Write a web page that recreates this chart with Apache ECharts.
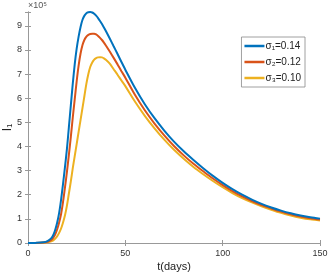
<!DOCTYPE html>
<html>
<head>
<meta charset="utf-8">
<script src="https://cdn.jsdelivr.net/npm/echarts@6/dist/echarts.min.js"></script>
<style>
html, body { margin: 0; padding: 0; background: #fff; }
#chart { width: 328px; height: 274px; }
</style>
</head>
<body>
<div id="chart"></div>
<script>
// days
var days = [0, 4, 8, 10, 12, 13, 14, 15, 16, 17, 18, 19, 20, 21, 22, 23, 24, 25, 26, 27, 28, 29,
  30, 31, 32, 33, 34, 35, 36, 37, 38, 39, 40, 42, 44, 46, 48, 50, 55, 60, 65, 70, 75, 80, 85,
  90, 95, 100, 105, 110, 115, 120, 125, 130, 135, 140, 145, 150];
// I1 in units of 1e5
var sigma1 = [0, 0.005, 0.03, 0.08, 0.2, 0.33, 0.55, 0.85, 1.25, 1.8, 2.45, 3.15, 3.9, 4.8, 5.7, 6.6, 7.4, 8.05, 8.55, 8.95, 9.25, 9.42,
  9.52, 9.56, 9.57, 9.55, 9.5, 9.42, 9.32, 9.2, 9.07, 8.93, 8.78, 8.47, 8.15, 7.83, 7.5, 7.18, 6.42, 5.75, 5.17, 4.66, 4.2, 3.8, 3.44,
  3.1, 2.78, 2.49, 2.23, 2.0, 1.8, 1.62, 1.47, 1.34, 1.23, 1.14, 1.07, 1.01];
var sigma2 = [0, 0.004, 0.02, 0.05, 0.13, 0.22, 0.36, 0.57, 0.85, 1.2, 1.7, 2.3, 2.95, 3.65, 4.4, 5.2, 5.95, 6.7, 7.35, 7.85, 8.2, 8.42,
  8.55, 8.62, 8.66, 8.67, 8.67, 8.64, 8.58, 8.5, 8.41, 8.3, 8.18, 7.93, 7.67, 7.4, 7.12, 6.85, 6.13, 5.5, 4.95, 4.46, 4.02, 3.63, 3.28,
  2.97, 2.67, 2.4, 2.15, 1.93, 1.74, 1.57, 1.43, 1.3, 1.19, 1.1, 1.03, 0.97];
var sigma3 = [0, 0.003, 0.012, 0.03, 0.07, 0.11, 0.18, 0.28, 0.42, 0.6, 0.85, 1.15, 1.55, 2.05, 2.55, 3.1, 3.6, 4.1, 4.6, 5.1, 5.6, 6.1,
  6.6, 7.0, 7.3, 7.48, 7.6, 7.66, 7.69, 7.7, 7.69, 7.65, 7.59, 7.43, 7.2, 6.97, 6.73, 6.5, 5.85, 5.27, 4.75, 4.28, 3.86, 3.49, 3.15,
  2.85, 2.57, 2.31, 2.07, 1.86, 1.68, 1.52, 1.38, 1.25, 1.14, 1.05, 0.98, 0.93];
var names = ['σ₁=0.14', 'σ₂=0.12', 'σ₃=0.10'];
var colors = ['#0072BD', '#D95319', '#EDB120'];

function pairs(ys) {
  return days.map(function (d, i) { return [d, ys[i]]; });
}

var font = 'Liberation Sans, Arial, sans-serif';
var chart = echarts.init(document.getElementById('chart'), null, {renderer: 'canvas'});
var axisCol = '#999';
var option = {
  animation: false,
  color: colors,
  grid: {left: 28, right: 8, top: 12, bottom: 31, containLabel: false, outerBoundsMode: 'none'},
  legend: {
    orient: 'vertical',
    right: 23,
    top: 37,
    padding: [4, 4, 4, 3],
    itemGap: 6,
    itemWidth: 20,
    itemHeight: 2.5,
    icon: 'rect',
    borderColor: '#888',
    borderWidth: 0.8,
    backgroundColor: '#fff',
    textStyle: {fontFamily: font, fontSize: 10, color: '#222', padding: [0, 0, 0, -4]},
    data: names
  },
  xAxis: [{
    type: 'value', min: 0, max: 150, interval: 50,
    name: 't(days)', nameLocation: 'middle', nameGap: 18, nameMoveOverlap: false,
    nameTextStyle: {fontFamily: font, fontSize: 11, color: '#222'},
    axisLine: {lineStyle: {color: axisCol, width: 1}},
    axisTick: {inside: true, length: 3, lineStyle: {color: axisCol}},
    axisLabel: {fontFamily: font, fontSize: 9, color: '#333', margin: 6},
    splitLine: {show: false}
  }, {
    type: 'value', min: 0, max: 150, interval: 50, position: 'top',
    axisLine: {show: true, lineStyle: {color: axisCol, width: 1}},
    axisTick: {inside: true, length: 3, lineStyle: {color: axisCol}},
    axisLabel: {show: false},
    splitLine: {show: false}
  }],
  yAxis: [{
    type: 'value', min: 0, max: 9.57, interval: 1,
    name: 'I₁', nameLocation: 'middle', nameGap: 14, nameMoveOverlap: false,
    nameTextStyle: {fontFamily: font, fontSize: 12, color: '#222'},
    axisLine: {show: true, lineStyle: {color: axisCol, width: 1}},
    axisTick: {inside: true, length: 3, lineStyle: {color: axisCol}},
    axisLabel: {
      fontFamily: font, fontSize: 9, color: '#333', margin: 6,
      formatter: function (v) { return Math.abs(v - Math.round(v)) < 1e-6 ? String(Math.round(v)) : ''; }
    },
    splitLine: {show: false}
  }, {
    type: 'value', min: 0, max: 9.57, interval: 1, position: 'right',
    axisLine: {show: true, lineStyle: {color: axisCol, width: 1}},
    axisTick: {inside: true, length: 3, lineStyle: {color: axisCol}},
    axisLabel: {show: false},
    splitLine: {show: false}
  }],
  graphic: [{
    type: 'text', left: 28, top: 1,
    style: {text: '×10⁵', fontFamily: font, fontSize: 9, fill: '#555'}
  }],
  series: [sigma1, sigma2, sigma3].map(function (ys, i) {
    return {
      name: names[i], type: 'line', data: pairs(ys),
      showSymbol: false, smooth: 0.3,
      lineStyle: {width: 2, color: colors[i]},
      z: 10 - i
    };
  })
};
chart.setOption(option);
</script>
</body>
</html>
